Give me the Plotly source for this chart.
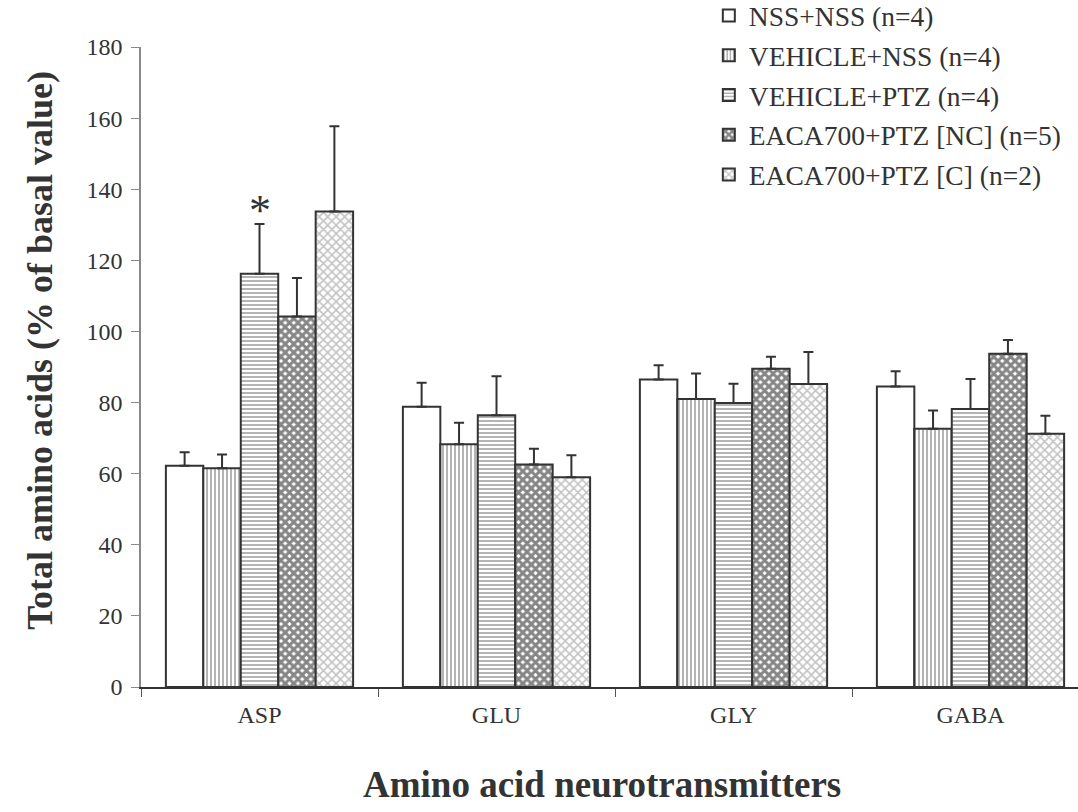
import plotly.graph_objects as go

categories = ["ASP", "GLU", "GLY", "GABA"]
series_names = [
    "NSS+NSS (n=4)",
    "VEHICLE+NSS (n=4)",
    "VEHICLE+PTZ (n=4)",
    "EACA700+PTZ [NC] (n=5)",
    "EACA700+PTZ [C] (n=2)",
]
nss_nss = [62.2, 78.8, 86.5, 84.5]
nss_nss_err = [3.8, 6.8, 4.0, 4.3]
veh_nss = [61.5, 68.3, 81.0, 72.6]
veh_nss_err = [3.9, 6.0, 7.2, 5.2]
veh_ptz = [116.2, 76.4, 79.9, 78.2]
veh_ptz_err = [14.0, 11.0, 5.4, 8.4]
eaca_nc = [104.2, 62.6, 89.5, 93.7]
eaca_nc_err = [10.8, 4.4, 3.4, 3.9]
eaca_c = [133.7, 59.0, 85.2, 71.2]
eaca_c_err = [24.0, 6.2, 9.0, 5.1]

values = [nss_nss, veh_nss, veh_ptz, eaca_nc, eaca_c]
errors = [nss_nss_err, veh_nss_err, veh_ptz_err, eaca_nc_err, eaca_c_err]

patterns = [
    dict(shape="", bgcolor="white"),
    dict(shape="|", fgcolor="#3a3a3a", bgcolor="white", size=4, solidity=0.38),
    dict(shape="-", fgcolor="#3a3a3a", bgcolor="white", size=4, solidity=0.38),
    dict(shape="x", fgcolor="#0d0d0d", bgcolor="white", size=6, solidity=0.75),
    dict(shape="x", fgcolor="#858585", bgcolor="white", size=6, solidity=0.45),
]

fig = go.Figure()
for i, (name, vals, errs, pat) in enumerate(zip(series_names, values, errors, patterns)):
    fig.add_trace(go.Bar(
        x=categories, y=vals, name=name, legendgroup=f"g{i}",
        marker=dict(color="white", line=dict(color="#333333", width=2), pattern=pat),
        error_y=dict(type="data", symmetric=False, array=errs,
                     arrayminus=[0] * len(errs), color="#333333",
                     thickness=2, width=5),
    ))

serif = "Liberation Serif"

fig.update_layout(
    width=1078, height=812,
    margin=dict(l=141, r=0, t=47, b=125, autoexpand=False),
    paper_bgcolor="white", plot_bgcolor="white",
    barmode="group", bargap=0.21, bargroupgap=0,
    font=dict(family=serif, color="#333333"),
    showlegend=True,
    legend=dict(x=0.606, y=1.0875, xanchor="left", yanchor="top",
                font=dict(family=serif, size=27.5, color="#333333"),
                bgcolor="rgba(0,0,0,0)", tracegroupgap=1,
                itemwidth=30),
    xaxis=dict(
        type="category", range=[-0.5, 3.4536],
        showline=True, linecolor="#333333", linewidth=1.5,
        ticks="outside", tickson="boundaries", ticklen=8, tickcolor="#555555",
        tickfont=dict(family=serif, size=24, color="#333333"),
        ticklabelstandoff=5,
        showgrid=False, zeroline=False,
    ),
    yaxis=dict(
        range=[0, 180], dtick=20,
        showline=True, linecolor="#888888", linewidth=1.5,
        ticks="outside", ticklen=8, tickcolor="#888888",
        tickfont=dict(family=serif, size=24, color="#333333"),
        ticklabelstandoff=4,
        showgrid=False, zeroline=False,
    ),
    annotations=[
        dict(text="<b>Total amino acids (% of basal value)</b>", textangle=-90,
             xref="paper", yref="paper", x=-0.1078, y=0.527,
             xanchor="center", yanchor="middle", showarrow=False,
             font=dict(family=serif, size=36, color="#333333")),
        dict(text="<b>Amino acid neurotransmitters</b>",
             xref="paper", yref="paper", x=0.492, y=-0.1527,
             xanchor="center", yanchor="middle", showarrow=False,
             font=dict(family=serif, size=37, color="#333333")),
        dict(text="*", xref="x", yref="y", x="ASP", y=134.0,
             xanchor="center", yanchor="middle", showarrow=False,
             font=dict(family=serif, size=44, color="#333333")),
    ],
)

fig.write_html("out.html", config={"displayModeBar": False},
               post_script="document.body.style.margin='0';")
